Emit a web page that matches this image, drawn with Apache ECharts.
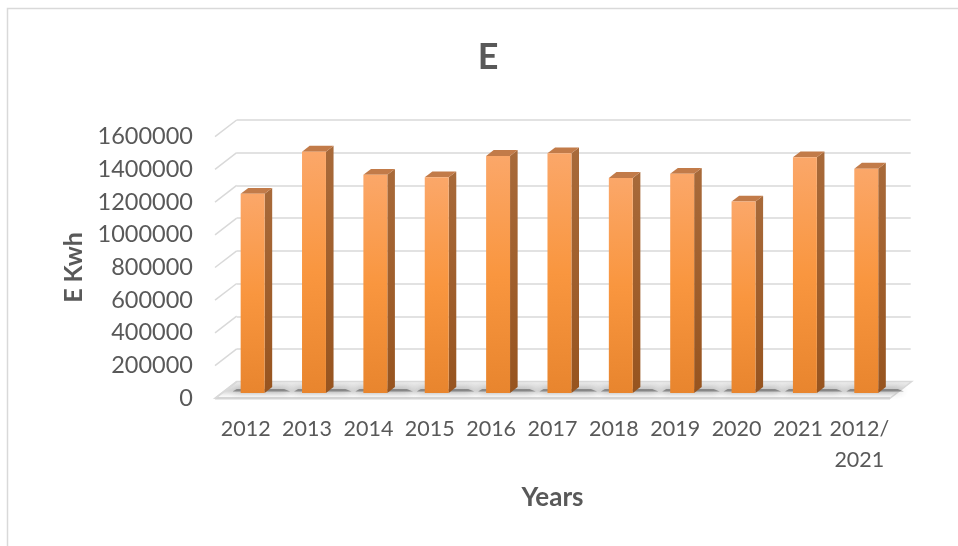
<!DOCTYPE html>
<html>
<head>
<meta charset="utf-8">
<script src="https://cdn.jsdelivr.net/npm/echarts@6/dist/echarts.min.js"></script>
<style>html,body{margin:0;padding:0;background:#fff}#c{width:958px;height:546px}</style>
</head>
<body>
<div id="c"></div>
<script>
// ---- data ----
var categories = ['2012', '2013', '2014', '2015', '2016', '2017', '2018', '2019', '2020', '2021', '2012/\n2021'];
var values = [1218000, 1476000, 1334000, 1319000, 1450000, 1466000, 1315000, 1340000, 1171000, 1441000, 1372000];
var yTicks = [0, 200000, 400000, 600000, 800000, 1000000, 1200000, 1400000, 1600000];
var chartTitle = 'E';
var yName = 'E Kwh';
var xName = 'Years';

// ---- style ----
var FONT = 'Lato, "Open Sans", sans-serif';
var TXT = '#595959';
var GRID = '#d9d9d9';
var DX = 21.7, DY = -16.7;   // 3D depth offset (front plane -> back wall)
var D0 = 0.32, D1 = 0.35;    // bar start depth fraction & bar depth fraction

var chart = echarts.init(document.getElementById('c'), null, {renderer: 'canvas'});

var barData = values.map(function (v, i) { return [i, v]; });

function frontGrad() {
  return {type: 'linear', x: 0, y: 0, x2: 0, y2: 1, colorStops: [
    {offset: 0, color: '#FBA769'}, {offset: 0.5, color: '#F9963F'}, {offset: 1, color: '#E8852E'}]};
}
function sideGrad() {
  return {type: 'linear', x: 0, y: 0, x2: 0, y2: 1, colorStops: [
    {offset: 0, color: '#A86A3A'}, {offset: 1, color: '#97541F'}]};
}

var option = {
  animation: false,
  backgroundColor: '#fff',
  textStyle: {fontFamily: FONT},
  graphic: [
    {type: 'rect', shape: {x: 7.5, y: 8.5, width: 1000, height: 600}, style: {fill: 'none', stroke: '#d9d9d9', lineWidth: 1.5}, z: -10, silent: true},
    {type: 'text', x: 488, y: 57, style: {text: chartTitle, fontFamily: FONT, fontSize: 36, fontWeight: 'bold', fill: TXT, textAlign: 'center', textVerticalAlign: 'middle'}}
  ],
  grid: [
    {left: 215, right: 68, top: 136.7, bottom: 147.7},        // front plane
    {left: 236.7, right: 47.3, top: 120, bottom: 164.3}       // back wall
  ],
  xAxis: [
    {type: 'category', gridIndex: 0, data: categories, boundaryGap: true,
     axisLine: {show: false}, axisTick: {show: false},
     axisLabel: {color: TXT, fontSize: 21.5, fontFamily: FONT, margin: 15, lineHeight: 31, interval: 0},
     name: xName, nameLocation: 'middle', nameGap: 99,
     nameTextStyle: {color: TXT, fontSize: 26, fontWeight: 'bold', fontFamily: FONT, verticalAlign: 'middle'}},
    {type: 'category', gridIndex: 1, data: categories, show: false}
  ],
  yAxis: [
    {type: 'value', gridIndex: 0, min: 0, max: 1600000, interval: 200000,
     axisLine: {show: false}, axisTick: {show: false}, splitLine: {show: false},
     axisLabel: {color: TXT, fontSize: 23.5, fontFamily: FONT, margin: 22, formatter: function (v) { return String(v); }},
     name: yName, nameLocation: 'middle', nameGap: 133, nameRotate: 90,
     nameTextStyle: {color: TXT, fontSize: 25, fontWeight: 'bold', fontFamily: FONT, verticalAlign: 'middle'}},
    {type: 'value', gridIndex: 1, min: 0, max: 1600000, interval: 200000,
     axisLine: {show: false}, axisTick: {show: false}, axisLabel: {show: false},
     splitLine: {show: true, lineStyle: {color: GRID, width: 1.5}}}
  ],
  series: [
    // floor
    {type: 'custom', xAxisIndex: 0, yAxisIndex: 0, data: [[0, 0]], z: 1, silent: true,
     renderItem: function (params, api) {
       var cs = params.coordSys;
       var y0 = api.coord([0, 0])[1];
       var xl = cs.x, xr = cs.x + cs.width;
       return {type: 'group', children: [
         {type: 'polygon', shape: {points: [[xl, y0], [xr, y0], [xr + DX, y0 + DY], [xl + DX, y0 + DY]]},
          style: {fill: {type: 'linear', x: 0, y: 0, x2: 0, y2: 1, colorStops: [
            {offset: 0, color: '#eeeeee'}, {offset: 0.55, color: '#d6d6d6'}, {offset: 0.8, color: '#f4f4f4'}, {offset: 1, color: '#ffffff'}]},
            stroke: GRID, lineWidth: 1.5}},
         {type: 'line', shape: {x1: xl, y1: y0, x2: xr, y2: y0}, style: {stroke: '#d4d4d4', lineWidth: 2.5}}
       ]};
     }},
    // shadows
    {type: 'custom', xAxisIndex: 0, yAxisIndex: 0, data: barData, z: 2, silent: true,
     renderItem: function (params, api) {
       var i = api.value(0);
       var base = api.coord([i, 0]);
       var w = api.size([1, 0])[0] * 0.39;
       var x = base[0] - w / 2 + DX * D0;
       var yb = base[1] + DY * D0;
       var ox = DX * D1, oy = DY * D1;
       return {type: 'polygon',
         shape: {points: [[x - 8, yb - 1.5], [x + w + ox + 18, yb - 1.5], [x + w + ox + 12, yb + oy + 2], [x - 4, yb + oy + 2]]},
         style: {fill: 'rgba(85,85,85,0.55)', shadowBlur: 7, shadowColor: 'rgba(60,60,60,0.85)'}};
     }},
    // left wall diagonals
    {type: 'custom', xAxisIndex: 0, yAxisIndex: 0, data: yTicks.map(function (t) { return [0, t]; }), z: 3, silent: true,
     renderItem: function (params, api) {
       var cs = params.coordSys;
       var y = api.coord([0, api.value(1)])[1];
       return {type: 'line', shape: {x1: cs.x, y1: y, x2: cs.x + DX, y2: y + DY},
         style: {stroke: GRID, lineWidth: 1.5}};
     }},
    // 3D bars
    {type: 'custom', xAxisIndex: 0, yAxisIndex: 0, data: barData, z: 5,
     renderItem: function (params, api) {
       var i = api.value(0), v = api.value(1);
       var base = api.coord([i, 0]);
       var top = api.coord([i, v]);
       var w = api.size([1, 0])[0] * 0.39;
       var sx = DX * D0, sy = DY * D0;
       var x = base[0] - w / 2 + sx;
       var yb = base[1] + sy, yt = top[1] + sy;
       var ox = DX * D1, oy = DY * D1;
       return {type: 'group', children: [
         {type: 'polygon', shape: {points: [[x + w, yt], [x + w + ox, yt + oy], [x + w + ox, yb + oy], [x + w, yb]]},
          style: {fill: sideGrad()}},
         {type: 'polygon', shape: {points: [[x, yt], [x + ox, yt + oy], [x + w + ox, yt + oy], [x + w, yt]]},
          style: {fill: '#C27B49'}},
         {type: 'rect', shape: {x: x, y: yt, width: w, height: yb - yt}, style: {fill: frontGrad()}}
       ]};
     }}
  ]
};
chart.setOption(option);
</script>
</body>
</html>
